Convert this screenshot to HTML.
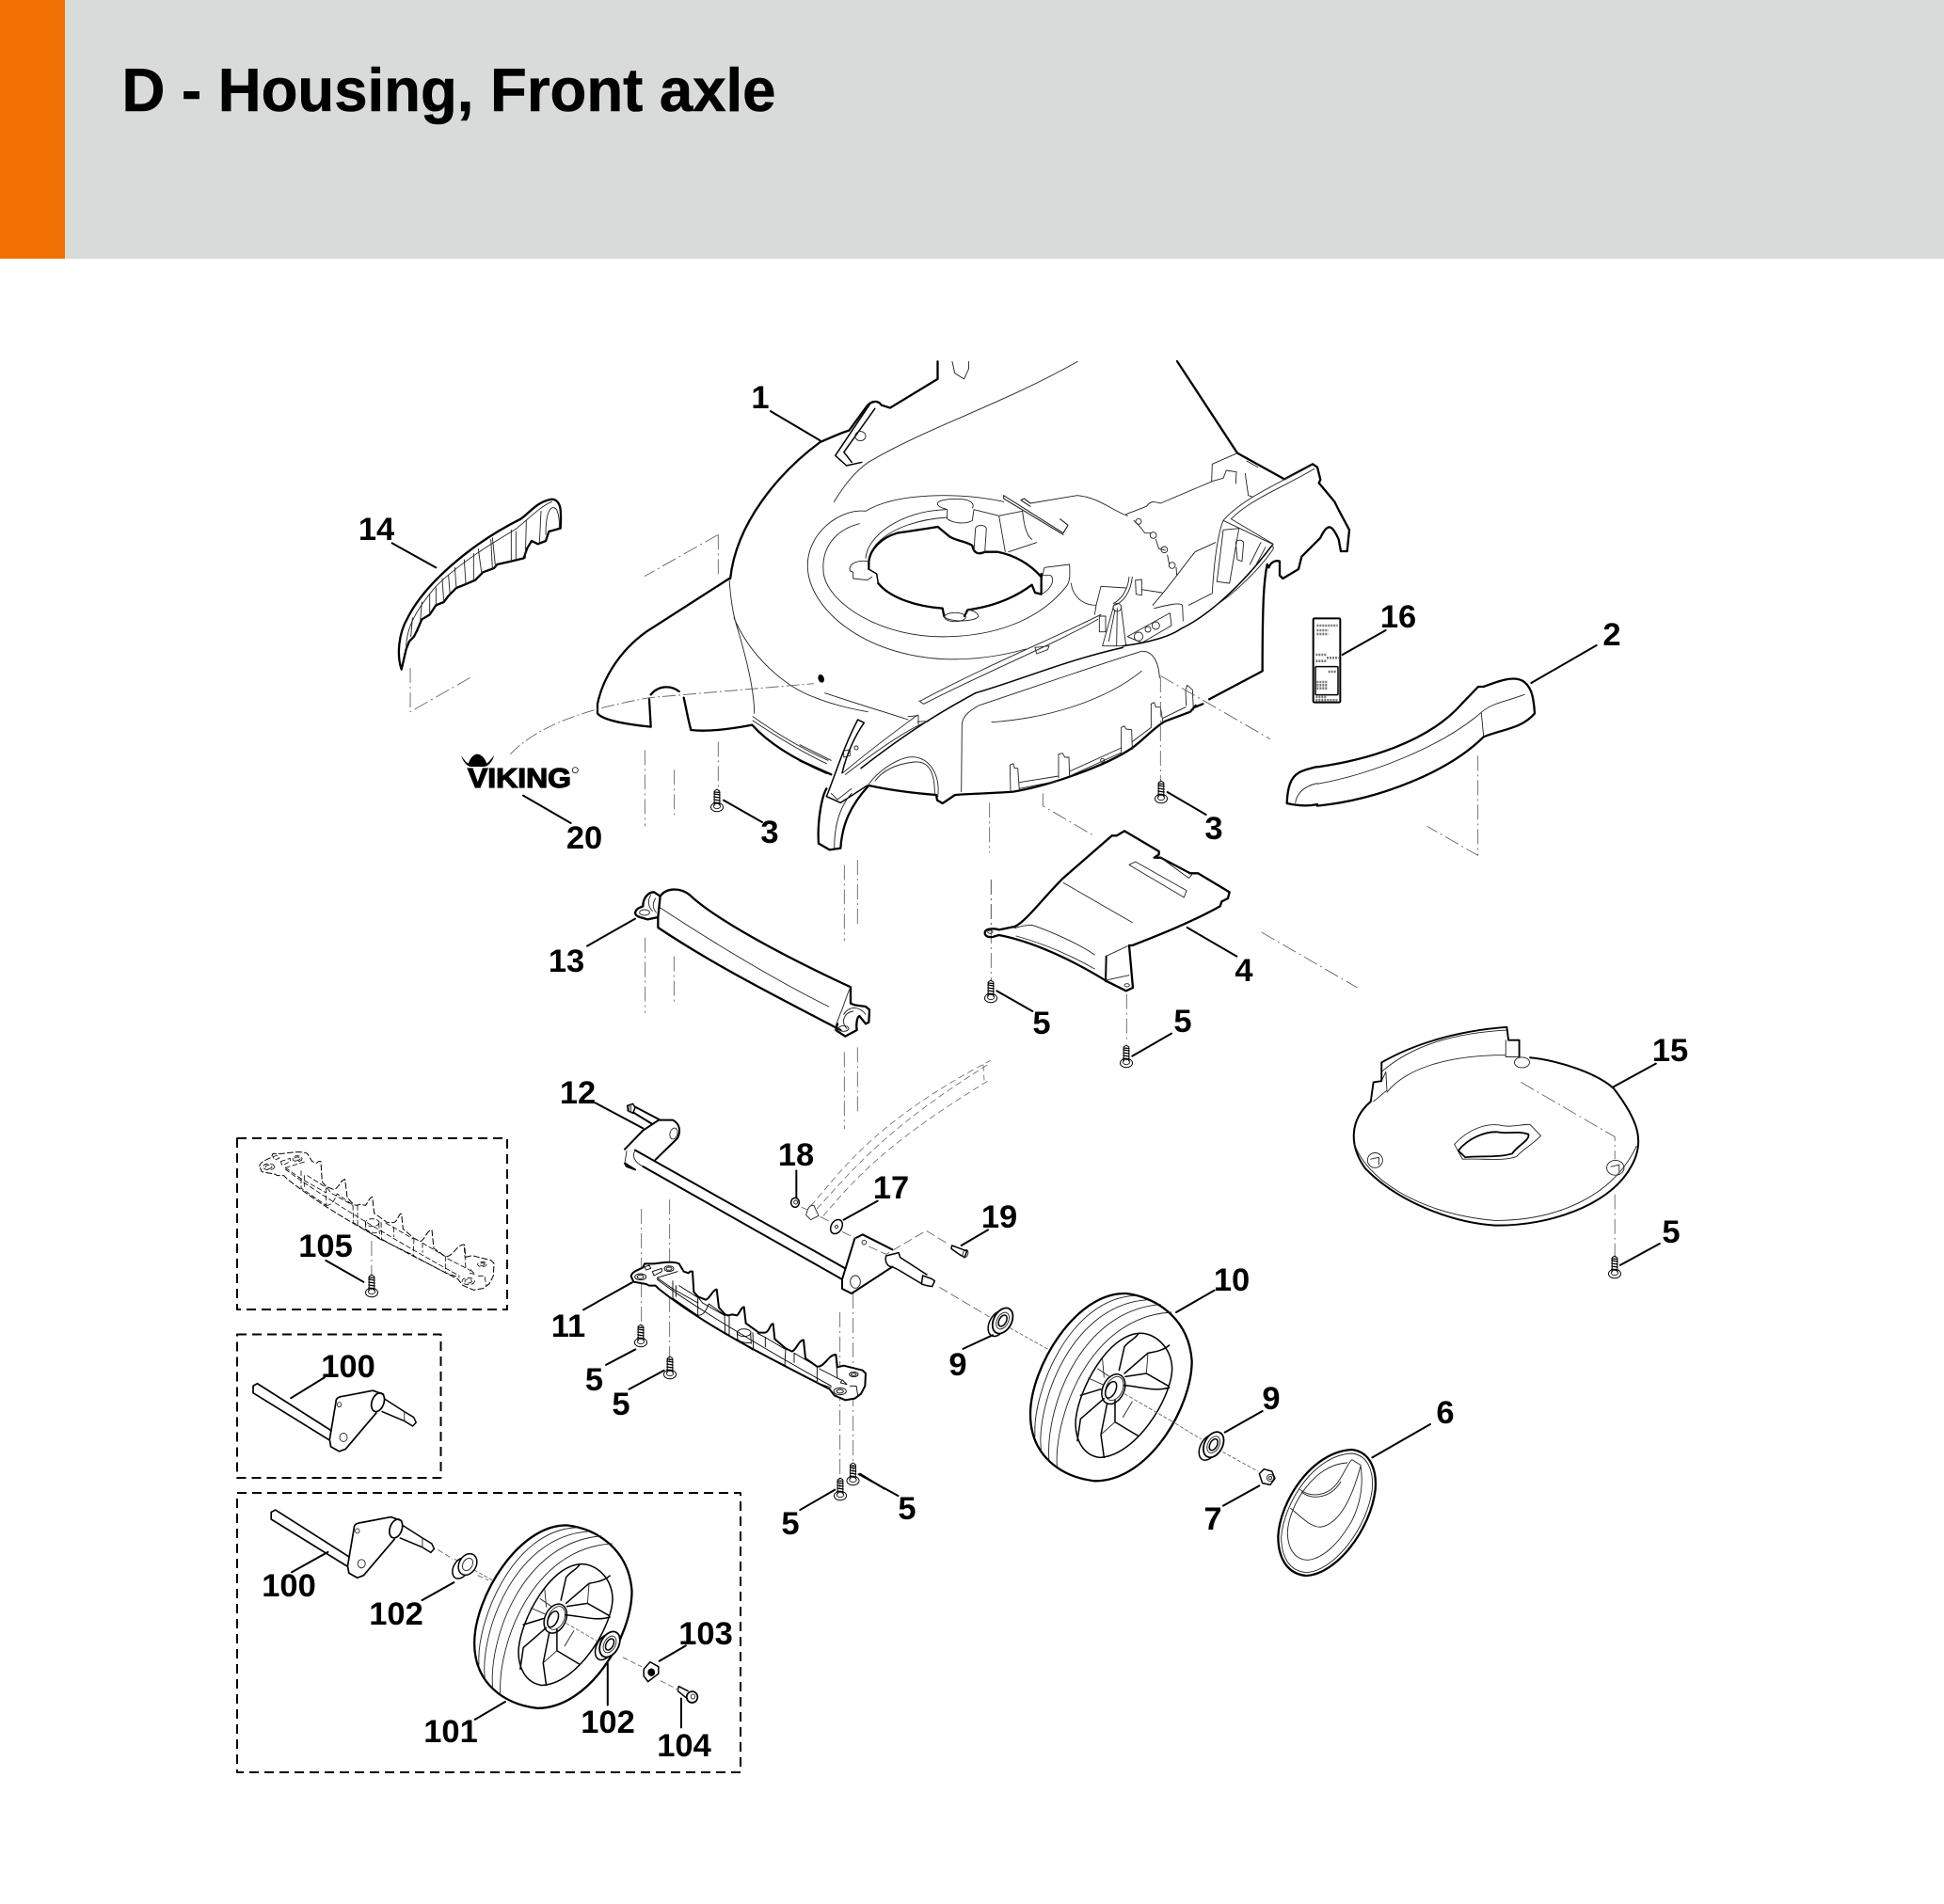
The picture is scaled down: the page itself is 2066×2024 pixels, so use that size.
<!DOCTYPE html>
<html lang="en"><head><meta charset="utf-8"><title>D - Housing, Front axle</title>
<style>
html,body{margin:0;padding:0;background:#fff}
svg{display:block}
path,line,ellipse,circle,rect,polyline{vector-effect:non-scaling-stroke;fill:none;stroke:#000;stroke-width:.9;stroke-linejoin:round;stroke-linecap:round}
.k{stroke-width:2.3}.m{stroke-width:1.5}.t{stroke-width:.9;stroke:#222}
.l{stroke-width:2}
.d{stroke:#666;stroke-width:.9;stroke-dasharray:16 4 2 4;stroke-linecap:butt}
.s{stroke:#777;stroke-width:2.6;stroke-dasharray:2 1;stroke-linecap:butt}
.w{fill:#fff}.b{fill:#000}
.box{stroke-width:2;stroke-dasharray:10 6;stroke-linecap:butt}
.inh{stroke-width:inherit;stroke-dasharray:inherit;fill:inherit}
text{font-family:"Liberation Sans",Arial,sans-serif;font-weight:700;fill:#000}
.n{font-size:34.5px;text-anchor:middle}
</style></head><body>
<svg width="2066" height="2024" viewBox="0 0 2066 2024" xmlns="http://www.w3.org/2000/svg">
<defs>
<g id="scr">
<ellipse class="w" cx="0" cy="0" rx="6.5" ry="4.8" style="stroke-width:1"/>
<ellipse cx="0" cy="-1" rx="3.8" ry="2.6" style="stroke-width:.8"/>
<path d="M-2.8,-2 L-2.8,-17 L0,-19 L2.8,-17 L2.8,-2" style="stroke-width:1"/>
<path d="M-3.2,-5 L3.2,-4 M-3.2,-8 L3.2,-7 M-3.2,-11 L3.2,-10 M-3.2,-14 L3.2,-13 M-3,-16 L3,-15.5" style="stroke-width:1.2"/>
</g>
<g id="brg">
<ellipse class="w m" cx="-3" cy="2" rx="9" ry="14.5" transform="rotate(28 -3 2)"/>
<ellipse class="w k" cx="2" cy="-1" rx="9.5" ry="14.5" transform="rotate(28 2 -1)" style="stroke-width:1.8"/>
<ellipse class="t" cx="2" cy="-1" rx="6" ry="9.5" transform="rotate(28 2 -1)"/>
<ellipse class="m" cx="2" cy="-1" rx="3.8" ry="6.5" transform="rotate(28 2 -1)"/>
</g>
<g id="wheel">
<g transform="translate(1060 1340) scale(.33333)">
<path class="k w" d="M105,490 C105,340 250,100 410,105 C500,115 610,180 620,320 C620,470 480,705 310,703 C200,690 105,620 105,490 Z"/>
<path class="t" d="M120,560 C110,420 230,120 440,112 M140,610 C120,470 230,140 480,125 M165,640 C150,480 260,160 520,140 M190,660 C180,500 290,180 555,165"/>
<path class="m" d="M450,232 C500,228 555,275 557,345 C555,440 440,625 325,628 C270,620 245,565 250,505 C260,410 350,240 450,232 Z"/>
<ellipse class="m" cx="370" cy="410" rx="34" ry="50" transform="rotate(25 370 410)"/>
<ellipse class="t" cx="373" cy="408" rx="26" ry="40" transform="rotate(25 373 408)"/>
<ellipse class="m" cx="362" cy="412" rx="15" ry="28" transform="rotate(25 362 412)"/>
<path class="m" d="M388,350 L405,275 C420,255 440,250 450,232 M405,360 L480,295 C510,290 530,285 548,270 M408,370 L475,360 L545,400 M402,398 C450,400 500,420 548,405 M350,455 L330,555 L340,628 M375,445 L375,515 L450,560 M340,440 L265,505 L255,575 M330,410 L265,430"/>
<path class="t" d="M480,295 L475,360 M330,555 L375,515 M290,375 L335,395 M335,315 L340,372 M320,345 L360,372 M430,450 L400,500"/>
<path class="d" d="M405,425 L552,510 M40,215 L165,285" style="stroke-dasharray:4 2"/>
</g></g>
<g id="p11o" transform="translate(650 1310) scale(.33333)">
<path class="inh" d="M62,140 C65,125 85,120 100,112 L105,100 L135,100 C170,95 200,92 215,100 L230,125 L245,130 L250,125 L258,125 L262,190 L275,205 L300,215 C315,210 320,185 335,182 L342,240 L362,262 L370,265 L385,262 L400,265 C410,255 412,240 422,238 L428,290 L470,320 L490,320 C505,315 505,290 515,292 L520,340 L555,370 L575,380 C590,375 595,345 612,343 L618,402 L655,428 C680,430 690,390 715,390 L720,430 L740,425 L800,440 L810,450 L808,490 L795,515 L775,530 L745,535 L710,520 L695,500 C500,400 300,300 150,180 L140,170 L120,170 L110,165 L70,158 Z"/>
</g>
<g id="p11i" transform="translate(650 1310) scale(.33333)">
<path class="inh" d="M145,150 C250,230 500,380 700,490 M145,145 L195,180 L275,225 M195,155 L195,210 L275,265 M205,170 L205,205 M215,170 L278,210 M278,210 L290,225 L360,265 M275,210 L275,265 M275,265 C300,265 305,235 310,228 L362,265 M360,265 L362,320 L450,375 M375,265 L375,330 M450,320 L452,375 L555,425 M465,322 L490,335 L552,372 M490,335 L490,365 M555,372 L552,425 L655,480 M582,385 L655,428 M582,385 L582,415 M655,428 L655,480 L700,495 M662,435 L730,470 M715,400 L720,465 M145,145 L210,125 M130,125 L160,115 L160,125 L135,138 Z M105,110 L120,105 L125,115 L110,120 Z M400,320 L402,345 M443,322 L445,355 M400,340 C410,350 430,355 445,352 M735,470 L750,485 L730,480 Z M760,490 L780,490 L785,520"/>
<ellipse class="inh" cx="422" cy="320" rx="22" ry="12"/>
<ellipse class="inh" cx="92" cy="142" rx="18" ry="10"/><ellipse class="inh" cx="92" cy="142" rx="10" ry="6"/>
<ellipse class="inh" cx="183" cy="116" rx="15" ry="9"/><ellipse class="inh" cx="183" cy="116" rx="9" ry="5"/>
<ellipse class="inh" cx="728" cy="507" rx="20" ry="11"/><ellipse class="inh" cx="728" cy="507" rx="11" ry="6"/>
<ellipse class="inh" cx="772" cy="453" rx="14" ry="8"/><ellipse class="inh" cx="772" cy="453" rx="8" ry="4"/>
</g>
<g id="stub">
<path class="k" style="stroke-width:1.7" d="M65,690 L75,685 L250,785 M65,705 L245,805 M65,690 L65,705"/>
<path class="k" style="stroke-width:1.7" d="M262,725 C262,715 270,713 280,712 L350,700 L375,708 M262,725 L247,805 L250,820 L270,830 L285,825 L358,748"/>
<path class="m" d="M378,718 L425,745 L447,757 L453,768 L445,776 L425,765 L372,745"/>
<ellipse class="k" style="stroke-width:1.7" cx="362" cy="725" rx="14" ry="21" transform="rotate(25 362 725)"/>
<path class="t" d="M425,745 L425,765"/>
<circle class="t" cx="280" cy="800" r="9"/><circle class="t" cx="270" cy="730" r="5"/>
</g>
</defs>

<rect x="0" y="0" width="2066" height="275" style="fill:#d9dbda;stroke:none"/>
<rect x="0" y="0" width="69" height="275" style="fill:#f07003;stroke:none"/>
<text x="129.5" y="118" font-size="65" textLength="695" lengthAdjust="spacingAndGlyphs" style="stroke:#000;stroke-width:.6">D - Housing, Front axle</text>

<!-- housing upper -->
<g transform="translate(400 370) scale(.70175 .35714)">
<path class="k" d="M850,40 L850,92 L778,178 L765,170 C760,155 750,155 742,175 L716,245 C700,255 690,265 672,280 C610,370 545,520 536,686"/>
<path class="m" d="M748,165 L695,320 L712,350 L735,340 M755,180 L708,310 L720,340"/>
<ellipse class="t" cx="733" cy="262" rx="8" ry="14"/>
<path class="t" d="M1062,40 C950,165 830,240 745,340 C720,375 705,420 693,458 M872,40 L876,75 L890,92 L897,62 L897,40"/>
<path class="l" d="M597,188 L672,275"/>
</g>

<!-- left part of housing + part 14 -->
<g transform="translate(400 500) scale(.33333)">
<path class="d" d="M108,630 L108,770 L310,655 M1090,205 L1090,340 M1090,205 L855,338 M856,892 L856,1135 M950,955 L950,1110 M1090,865 L1090,1025"/>
<path class="k" d="M1125,345 L860,515 C770,580 720,670 705,745 L705,775 C720,795 780,808 875,818 L870,730 M875,715 C900,685 940,685 965,705 M980,725 C990,770 995,800 1003,828 C1060,835 1130,825 1198,812 C1250,870 1330,920 1435,965"/>
<path class="t" d="M1125,345 C1130,420 1140,470 1150,500 C1180,600 1205,700 1205,775 M1140,470 C1190,590 1300,690 1400,725 C1450,745 1510,760 1567,770 M1200,785 C1270,835 1350,885 1440,925 M1200,798 C1270,845 1350,895 1435,935"/>
<path class="d" d="M427,905 C500,830 620,770 870,725 L1395,680" style="stroke-dasharray:14 3 2 3"/>
<ellipse class="b" cx="1418" cy="664" rx="8" ry="12" transform="rotate(-20 1418 664)"/>
<!-- 14 -->
<path class="k w" d="M80,635 C65,590 70,520 100,470 C150,370 290,240 460,155 C490,135 510,100 560,92 C590,95 590,130 587,185 L550,195 L540,225 L515,235 L495,225 L480,250 L470,280 L430,290 L385,300 L375,312 L340,325 L315,350 L280,365 L255,375 L230,400 L215,420 L190,430 L170,460 L145,475 L130,510 L120,530 L105,545 L95,570 Z"/>
<path class="t" d="M95,565 C95,500 130,440 190,370 C240,320 320,260 440,190 C470,170 520,115 560,100"/>
<path class="t" d="M110,530 L115,470 M140,480 L145,420 M170,455 L170,395 M190,430 L190,375 M215,420 L210,345 M235,400 L230,335 M255,375 L250,310 M285,360 L280,285 M310,350 L310,265 M335,325 L325,250 M370,312 L365,220 M380,310 L370,215 M430,290 L430,190 M445,285 L445,195 M475,280 L478,160 M520,230 L525,130 M540,205 C540,135 555,105 575,125 C585,150 583,170 583,185"/>
<path class="l" d="M50,232 L190,310 M468,1037 L620,1125 M1107,1052 L1230,1122"/>
<!-- viking helmet -->
<path class="b" style="stroke:none" d="M270,908 C275,925 285,942 300,945 L345,945 C360,942 372,925 375,908 C368,920 358,930 352,935 C345,915 332,905 322,905 C312,905 300,915 293,935 C285,930 277,920 270,908 Z"/>
<circle class="t" cx="634" cy="956" r="9"/>
</g>
<text x="497" y="837" font-size="29" textLength="110" lengthAdjust="spacingAndGlyphs" style="stroke:#000;stroke-width:1.2">VIKING</text>

<!-- housing center -->
<g transform="translate(850 480) scale(.33333)">
<path class="t" d="M210,190 C130,180 20,260 25,370 C30,500 200,650 460,662 C560,665 650,650 720,630 M190,230 C110,250 70,310 75,380 C80,480 260,600 480,590 C640,585 770,530 850,430 C865,410 860,380 860,360 L780,370 L770,410 M210,190 C310,130 510,130 650,160"/>
<path class="k" d="M440,240 C380,250 340,255 310,260 C260,275 225,310 220,350 L220,375 M250,420 C290,470 380,495 455,500 L460,525 M525,525 L535,505 C610,495 680,470 740,425 L750,450 L770,455 L770,390 M770,400 C730,355 680,330 630,320 L590,320 C570,330 555,325 550,300 C530,285 490,285 470,265 L440,240"/>
<path class="m" d="M245,390 L250,420 M220,375 L245,390"/>
<path class="t" d="M210,340 C215,270 320,190 465,185 M240,300 C290,240 390,215 470,210 M440,170 C430,155 480,150 500,152 C540,150 560,165 550,180 M440,170 C445,180 465,182 470,185 L470,215 C490,230 530,232 550,220 L555,185 L635,205 L710,190 C715,240 725,270 740,280 M635,205 L655,320 M665,320 L755,290 M560,245 L555,320 M595,245 L590,320 M560,245 C565,232 590,232 595,245 M215,350 C180,345 155,360 160,380 L170,385 L170,405 L215,410 L230,400 M460,525 C470,545 560,545 570,525 C565,510 545,505 535,505 M770,455 C800,440 815,410 800,395 L775,395 M865,420 C870,460 900,490 945,490 M960,430 L1040,435 M960,430 L945,490 L940,520 M1090,440 L1155,450"/>
<ellipse class="t" cx="495" cy="528" rx="34" ry="14"/>
<path class="t" style="stroke-width:1.1" d="M650,140 L840,260 L855,235 L830,215 M650,140 L650,150 L840,265 M705,155 L735,175 M705,155 L715,150 L735,165"/>
<path class="t" d="M735,165 L885,140 C950,145 1000,190 1045,205"/>
<path class="t" d="M1060,400 C1055,450 1030,480 1005,490 M1050,400 C1045,445 1025,470 1000,485 M1070,410 L1072,455 L1090,458 L1090,408 L1070,410 M385,795 C600,680 800,600 960,520 M395,805 C600,700 800,620 950,535 M380,795 L395,805 M750,625 L795,620 L790,632 L755,645 Z"/>
<path class="t" d="M1000,495 L965,620 L1040,620 L1025,500 M1012,500 L1010,620 M985,605 L1005,505 M955,525 L955,575 L975,575 L975,525 Z M1045,590 L1180,515 L1185,555 L1090,610 Z M1125,490 C1170,440 1220,370 1260,320 L1325,290 M1130,500 C1170,490 1210,480 1220,490 L1222,540 M1240,490 L1315,452"/>
<circle class="t" cx="1012" cy="497" r="13"/><circle class="t" cx="1080" cy="590" r="14"/><circle class="t" cx="1110" cy="567" r="9"/><circle class="t" cx="1135" cy="555" r="12"/>
<circle class="t" cx="965" cy="985" r="6"/>
<!-- front fin -->
<path class="k" d="M60,1250 C55,1180 70,1100 85,1075 M60,1250 L95,1270 L130,1265 C135,1190 160,1130 220,1065 M0,985 L100,1030 M220,1065 C290,1080 370,1090 435,1095 L438,1112 L455,1122 L495,1095 C560,1090 620,1090 680,1085 C800,1065 980,1000 1060,945 C1100,915 1130,880 1165,860 L1245,830 L1262,810"/>
<path class="m" d="M85,1100 C110,1040 140,940 185,855 L205,865 C180,900 150,960 135,1025 M1030,625 C850,665 700,730 560,770 M560,770 C450,830 350,890 195,1010 M1030,620 C1110,610 1180,590 1215,565 C1290,530 1400,440 1505,300 M85,1100 L130,1120 L215,1065"/>
<path class="t" d="M220,1060 C250,1020 300,985 345,975 C410,965 450,1030 440,1100 M240,1050 C270,1010 320,995 365,990 C420,985 430,1040 430,1090 M137,1025 C250,930 350,860 375,840 M145,1030 C250,950 350,880 410,860 M345,845 L378,842 L378,870 M110,1265 C110,1190 130,1130 165,1090 M80,770 C200,810 300,840 345,855 M375,862 L400,860 M0,935 L100,985 M100,1090 L120,1110 L165,1075 M140,955 L160,950 L160,970 L140,975 Z"/>
<circle class="t" cx="180" cy="945" r="6"/>
<path class="t" d="M515,1085 L517,870 C520,840 545,825 570,810 C750,750 950,680 1090,637 C1130,635 1145,680 1147,722 M612,863 C800,850 980,790 1090,700"/>
<path class="t" d="M672,1085 L670,1000 L680,995 L685,1010 L695,1010 L700,1080 M825,1040 L825,965 L838,962 L845,975 L858,975 L860,1040 M1025,960 L1025,880 L1035,875 L1040,885 L1058,887 L1060,950 M1120,880 L1120,805 L1130,800 L1135,815 L1150,815 L1158,865 M1232,810 L1230,760 L1235,745 L1252,760 L1255,825 M700,1055 L825,1035 M860,1020 L1025,945 M1060,925 L1120,880 M1158,850 L1230,815 M700,1075 L825,1050 M860,1035 L1025,960"/>
</g>

<!-- rear of housing, 16 -->
<g transform="translate(1020 370) scale(.33333)">
<path class="k" d="M693,42 L885,335 L1035,418 L1125,370 L1140,380 L1150,420 L1145,430 L1195,490 L1210,520 L1242,580 L1235,648 L1215,648 L1208,610 C1190,570 1175,550 1150,605 L1090,665 L1080,705 L1030,735 L1020,725 L1020,680 C1005,675 990,685 985,700 L980,690 C970,740 965,800 965,1030 L795,1120 M775,1135 L750,1145"/>
<path class="t" d="M885,335 L805,370 L803,425 L840,415 L850,390 L882,395 L880,432 M805,425 L640,495 C620,490 610,485 595,505 L530,530 M910,400 L920,470 L935,475 M915,360 L950,380 M1125,372 C1020,430 900,480 840,550 M1130,385 C1030,445 930,480 865,545 M840,550 L997,625 M865,545 L1000,625 M840,550 C820,600 810,700 805,780 M997,625 L1000,640 C960,700 880,780 810,825 M840,580 L890,575 L860,750 L820,745 Z M880,620 L885,675 L900,680 L905,620 C900,610 885,610 880,620 M960,620 L925,690 M975,635 L940,700"/>
<path class="m" d="M1145,430 L1195,490"/>
<path class="t" d="M555,550 L575,570 L590,590 L610,590 M625,610 L635,640 L655,645 M662,660 L668,690 M690,700 L692,725"/>
<circle class="t" cx="570" cy="553" r="9"/><circle class="t" cx="617" cy="597" r="10"/><circle class="t" cx="652" cy="643" r="10"/><circle class="t" cx="677" cy="693" r="10"/>
</g>

<!-- mid-right: 3, 4, 16, 2 left -->
<g transform="translate(1000 640) scale(.33333)">
<path class="d" d="M155,640 L155,800 M160,885 L160,1210 M592,1250 L592,1395 M700,240 L700,575 M325,610 L325,650 L487,745 M700,235 L1050,437 M1022,1053 L1328,1230"/>
<path class="k" d="M140,1055 C140,1040 170,1040 185,1045 L235,1035 C270,1020 320,950 390,880 L545,745 L560,745 L585,730 L695,795 L695,805 L680,815 L700,815 L795,865 L820,865 L920,925 L915,945 L895,955 L890,970 C800,1020 700,1060 610,1095 L600,1095 L612,1230 L590,1240 L530,1210 C400,1130 280,1080 185,1062 L165,1068 C150,1070 140,1065 140,1055 Z"/>
<path class="k" style="stroke-width:2" d="M527,1130 L525,1210"/>
<path class="t" d="M390,895 L610,1022 M600,838 L620,828 L783,920 L775,942 Z M700,815 L790,880 L800,870 M235,1040 C250,1035 270,1030 290,1030 C350,1050 440,1090 490,1125 M240,1065 C330,1090 420,1130 490,1170 M525,1130 L595,1097 M530,1205 L600,1190"/>
<ellipse class="t" cx="157" cy="1052" rx="8" ry="5"/><ellipse class="t" cx="593" cy="1222" rx="8" ry="5"/>
<path class="l" d="M722,606 L845,678 M178,1240 L292,1305 M610,1448 L735,1376 M785,1038 L943,1130 M1280,168 L1418,90"/>
<!-- 16 -->
<rect class="k" x="1187" y="52" width="86" height="268" rx="4" style="stroke-width:2"/>
<rect class="m" x="1194" y="206" width="72" height="90" rx="3"/>
<path class="s" d="M1198,75 L1265,75 M1198,90 L1235,90 M1198,102 L1235,102 M1195,168 L1230,168 M1230,178 L1268,178 M1195,188 L1230,188 M1235,222 L1260,222 M1198,255 L1232,255 M1198,265 L1232,265 M1198,275 L1232,275 M1195,303 L1228,303 M1195,313 L1265,313"/>
<!-- 2 left -->
<path class="k" d="M1200,525 C1170,532 1150,538 1140,545 C1115,560 1105,590 1103,642 C1140,650 1170,652 1200,645"/>
<path class="t" d="M1130,640 C1135,605 1165,585 1200,578"/>
</g>

<!-- part 2 right -->
<g transform="translate(1400 660) scale(.33333)">
<path class="d" d="M512,430 L512,748 L350,655"/>
<path class="k" d="M0,466 C150,445 350,390 460,265 L513,210 L530,210 C570,195 630,170 660,195 C685,215 690,250 693,295 C650,345 590,345 530,370 C420,480 200,570 0,590"/>
<path class="t" d="M0,520 C170,490 400,400 525,290 C560,260 610,255 660,235 M523,295 L530,368"/>
<path class="l" d="M682,198 L890,78"/>
</g>

<!-- part 13, 12, 17, 18, 19 -->
<g transform="translate(560 900) scale(.33333)">
<path class="d" d="M1012,58 L1012,300 M1054,42 L1054,248 M1012,655 L1012,900 M1054,640 L1054,845 M377,290 L377,530 M469,350 L469,505 M1480,105 L1480,260"/>
<path class="k" d="M425,158 C445,130 490,130 520,155 C600,230 800,340 1032,448 L1032,500 L1045,505 L1080,510 L1092,520 L1090,560 L1080,565 L1060,540 C1050,545 1050,575 1052,585 L1015,605 L985,585 L990,565 M1000,585 C800,480 600,380 418,258 L418,225 M345,210 C350,195 360,195 370,190 C370,160 390,145 405,145 L425,158 L418,225 L385,232 L360,225 C350,222 345,218 345,210 Z"/>
<path class="t" d="M425,195 C600,310 800,430 962,510 M1032,448 C1020,470 1010,510 1000,530 L985,570 M1010,535 C1030,505 1060,510 1080,535 M1020,580 C1000,560 1010,530 1040,525 M395,155 C385,170 385,190 400,205 M410,165 C400,180 400,195 412,210"/>
<ellipse class="t" cx="375" cy="210" rx="16" ry="9"/><ellipse class="t" cx="1010" cy="580" rx="16" ry="9"/>
<!-- ghost arcs -->
<path class="d" style="stroke-dasharray:7 4;stroke-width:.8" d="M905,1145 C1000,1040 1100,880 1478,682 M925,1155 C1030,1040 1140,900 1470,695 M945,1178 C1060,1040 1170,930 1478,742 M1455,695 L1458,745"/>
<path class="t" d="M890,1175 L905,1190 L930,1177 L915,1145 C905,1140 895,1150 890,1175"/>
<!-- axle -->
<path class="k" style="stroke-width:2" d="M312,965 L370,905 L420,872 L465,872 C490,885 490,910 480,930 L410,998 M345,1030 L318,1020 L312,1010 Z M345,968 L1015,1345 M370,1020 L1005,1380 M1005,1380 L1045,1250 L1070,1237 L1165,1285 M1005,1380 L1005,1410 L1035,1425 L1165,1340 M345,830 L425,872 M340,848 L400,885"/>
<path class="m" d="M320,826 L338,820 L345,832 L338,850 L322,842 Z M1145,1305 L1185,1295 L1190,1310 L1275,1365 M1165,1340 L1185,1350 L1260,1395 M1145,1305 C1140,1325 1150,1340 1165,1340 M1258,1395 L1262,1368 L1290,1378 L1300,1385 L1292,1403 L1275,1400 Z"/>
<path class="t" d="M326,824 L326,846 M332,822 L332,848"/>
<ellipse class="t" cx="468" cy="915" rx="12" ry="18" transform="rotate(15 468 915)"/>
<path class="t" d="M345,968 C335,985 340,1005 370,1020 M318,970 L312,1010"/>
<circle class="t" cx="1075" cy="1262" r="7"/><ellipse class="t" cx="1047" cy="1388" rx="16" ry="20"/>
<!-- 18 -->
<ellipse class="m" cx="855" cy="1135" rx="13" ry="15"/><circle class="t" cx="857" cy="1134" r="6"/>
<!-- 17 -->
<ellipse class="m" cx="987" cy="1212" rx="17" ry="24" transform="rotate(30 987 1212)"/><circle class="t" cx="987" cy="1212" r="5"/>
<!-- 19 -->
<path class="m" d="M1355,1272 L1385,1283 L1403,1290 L1395,1310 L1378,1300 L1353,1282 Z"/><ellipse class="t" cx="1398" cy="1298" rx="8" ry="13" transform="rotate(20 1398 1298)"/>
<path class="d" style="stroke-dasharray:10 4" d="M875,1150 L895,1158 M935,1180 L970,1198 M1005,1228 L1050,1250 M1090,1275 L1145,1300 L1273,1225 L1345,1268 M1315,1405 L1475,1500"/>
<path class="l" d="M192,317 L345,230 M218,817 L370,898 M859,1033 L859,1120 M1010,1190 L1118,1130 M1385,1272 L1470,1222 M180,1477 L335,1390"/>
</g>

<!-- wheel, cap, nut -->
<use href="#wheel"/>
<g transform="translate(1060 1340) scale(.33333)">
<path class="d" style="stroke-dasharray:4 2" d="M552,510 L650,570 M718,610 L830,672"/>
<path class="k w" d="M895,880 C900,770 1000,610 1130,603 C1190,610 1210,670 1205,730 C1190,860 1080,1000 985,1005 C925,1000 895,950 895,880 Z"/>
<path class="t" d="M905,880 C915,770 1010,620 1130,615 C1180,620 1200,670 1195,730 C1180,850 1075,990 985,995 C930,990 905,945 905,880 M925,865 C930,780 1010,650 1115,645 M1158,652 C1170,730 1150,790 1130,830 C1090,900 1040,950 990,955 C950,955 925,920 925,865 M965,730 C1000,760 1060,750 1090,700 C1105,680 1115,650 1130,635 L1158,652 M970,738 C1005,768 1065,755 1095,705 M935,790 C970,820 1000,850 1030,850 C1090,840 1130,760 1158,655"/>
<path class="m" d="M835,680 L850,665 L875,672 L885,695 L870,715 L845,710 Z"/><circle class="t" cx="870" cy="693" r="11"/><circle class="t" cx="870" cy="693" r="5"/>
<path class="l" d="M570,165 L692,95 M725,548 L845,480 M1195,628 L1380,522 M720,782 L835,718"/>
</g>
<use href="#brg" x="1287.7" y="1536.7"/>
<use href="#brg" x="1063.6" y="1405"/>

<!-- part 15 and misc (zoom 4 coordinates) -->
<g transform="translate(900 1080) scale(.57398 .39541)">
<path class="k" style="stroke-width:2" d="M970,230 C930,280 930,350 960,410 C1020,500 1120,555 1200,563 C1300,565 1410,510 1450,410 C1480,340 1465,280 1420,195 C1390,155 1320,120 1265,112"/>
<path class="t" d="M940,345 C960,430 1050,530 1200,550 C1320,550 1420,480 1462,350 M990,150 C1050,75 1130,45 1222,38"/>
<path class="k" style="stroke-width:1.9" d="M970,230 L975,178 L990,175 L990,125 C1050,75 1130,40 1222,30 L1225,65 L1245,65 L1245,110"/>
<path class="t" d="M1000,205 C1030,150 1100,105 1220,105 M990,175 L998,150 L1000,200 L975,230 M1220,65 L1220,110 L1245,110"/>
<path class="t" d="M1125,345 C1150,305 1185,285 1215,295 C1235,300 1250,290 1265,292 L1285,322 C1270,345 1250,360 1240,378 C1215,392 1175,382 1140,385 Z"/>
<path class="k" style="stroke-width:1.8" d="M1132,362 C1150,330 1180,310 1205,312 C1225,318 1245,308 1262,318 C1265,335 1240,350 1232,370 C1205,382 1170,375 1145,380 Z"/>
<ellipse class="t" cx="978" cy="388" rx="14" ry="20"/><ellipse class="t" cx="1423" cy="408" rx="16" ry="20"/><ellipse class="t" cx="1250" cy="125" rx="14" ry="14"/>
<path class="t" d="M970,385 L985,380 L985,400 M1415,405 L1430,400 L1430,418"/>
<path class="d" d="M1248,178 L1422,325 L1422,385 M1422,480 L1422,650"/>
<path class="l" d="M1420,190 L1498,128 M1432,670 L1505,612 M22,1232 L95,1290 M215,895 L270,858"/>
</g>

<!-- axle dash lines, part 11 and insets -->
<g transform="translate(650 1310) scale(.33333)">
<path class="d" d="M95,-75 L95,310 M185,-105 L185,410 M728,255 L728,815 M770,195 L770,770"/>
</g>
<use href="#p11o" style="stroke-width:2;fill:#fff"/>
<use href="#p11i" style="stroke-width:.9;fill:none"/>
<g transform="translate(-395 -117)">
<use href="#p11o" style="stroke-width:1;stroke-dasharray:6 3;fill:#fff"/>
<use href="#p11i" style="stroke-width:.8;stroke-dasharray:5 3;fill:none"/>
</g>
<g transform="translate(240 1130) scale(.44643 .49745)">
<path class="d" d="M347,380 L347,455"/>
<use href="#stub"/>
<use href="#stub" transform="translate(43 270)"/>
<path class="l" d="M238,422 L328,468 M155,716 L235,672 M157,1088 L243,1045 M467,1148 L543,1110 M593,1403 L665,1365 M909,1283 L909,1372 M1032,1278 L1095,1245 M1084,1358 L1084,1420 M905,645 L975,612 M960,697 L1043,657 M1367,955 L1450,912 M1510,878 L1568,910"/>
<!-- nut 103 and bolt 104 -->
<path class="m" d="M995,1295 L1010,1280 L1030,1290 L1030,1305 L1005,1322 L995,1310 Z"/>
<circle class="m b" cx="1013" cy="1302" r="7"/>
<path class="m" d="M1078,1332 L1100,1342 M1076,1342 L1098,1358 M1078,1332 L1076,1342"/>
<ellipse class="k" style="stroke-width:1.7" cx="1110" cy="1355" rx="13" ry="12"/>
<circle class="t" cx="1112" cy="1354" r="5"/>
<path class="d" style="stroke-dasharray:6 3" d="M505,1040 L540,1060 M600,1095 L625,1105 M820,1205 L880,1240 M945,1270 L990,1290 M1035,1320 L1078,1340"/>
</g>
<use href="#wheel" transform="translate(588 1718) scale(.975) translate(-1181 -1474)"/>
<use href="#brg" x="646" y="1749"/>
<g transform="translate(494 1665)">
<ellipse class="m w" cx="-4" cy="2" rx="8" ry="12" transform="rotate(30 -4 2)"/>
<ellipse class="m w" cx="3" cy="-2" rx="9" ry="12" transform="rotate(30 3 -2)"/>
<ellipse class="t" cx="3" cy="-2" rx="5" ry="7" transform="rotate(30 3 -2)"/>
</g>
<rect class="box" x="252" y="1210" width="287" height="182"/>
<rect class="box" x="252" y="1418.5" width="216.5" height="152.5"/>
<rect class="box" x="252" y="1587" width="535" height="297"/>

<!-- screws -->
<use href="#scr" x="1234" y="849"/>
<use href="#scr" x="762" y="858"/>
<use href="#scr" x="1053" y="1061"/>
<use href="#scr" x="1197" y="1130"/>
<use href="#scr" x="1716" y="1354"/>
<use href="#scr" x="681" y="1427"/>
<use href="#scr" x="712" y="1461"/>
<use href="#scr" x="906.5" y="1574"/>
<use href="#scr" x="893" y="1590"/>
<use href="#scr" x="395" y="1374"/>

<!-- labels -->
<text class="n" x="808" y="434">1</text>
<text class="n" x="400" y="574">14</text>
<text class="n" x="1713" y="686">2</text>
<text class="n" x="1486" y="667">16</text>
<text class="n" x="818" y="896">3</text>
<text class="n" x="1290" y="892">3</text>
<text class="n" x="621" y="902">20</text>
<text class="n" x="602" y="1033">13</text>
<text class="n" x="1322" y="1043">4</text>
<text class="n" x="1107" y="1099">5</text>
<text class="n" x="1257" y="1097">5</text>
<text class="n" x="1775" y="1128">15</text>
<text class="n" x="614" y="1173">12</text>
<text class="n" x="846" y="1239">18</text>
<text class="n" x="947" y="1274">17</text>
<text class="n" x="1062" y="1305">19</text>
<text class="n" x="604" y="1421">11</text>
<text class="n" x="346" y="1336">105</text>
<text class="n" x="370" y="1464">100</text>
<text class="n" x="307" y="1697">100</text>
<text class="n" x="421" y="1727">102</text>
<text class="n" x="479" y="1852">101</text>
<text class="n" x="646" y="1842">102</text>
<text class="n" x="750" y="1748">103</text>
<text class="n" x="727" y="1867">104</text>
<text class="n" x="631.5" y="1478">5</text>
<text class="n" x="660" y="1504">5</text>
<text class="n" x="840" y="1631">5</text>
<text class="n" x="964" y="1615">5</text>
<text class="n" x="1309" y="1372">10</text>
<text class="n" x="1018" y="1462">9</text>
<text class="n" x="1351" y="1498">9</text>
<text class="n" x="1536" y="1513">6</text>
<text class="n" x="1289" y="1626">7</text>
<text class="n" x="1776" y="1321">5</text>
</svg>
</body></html>
